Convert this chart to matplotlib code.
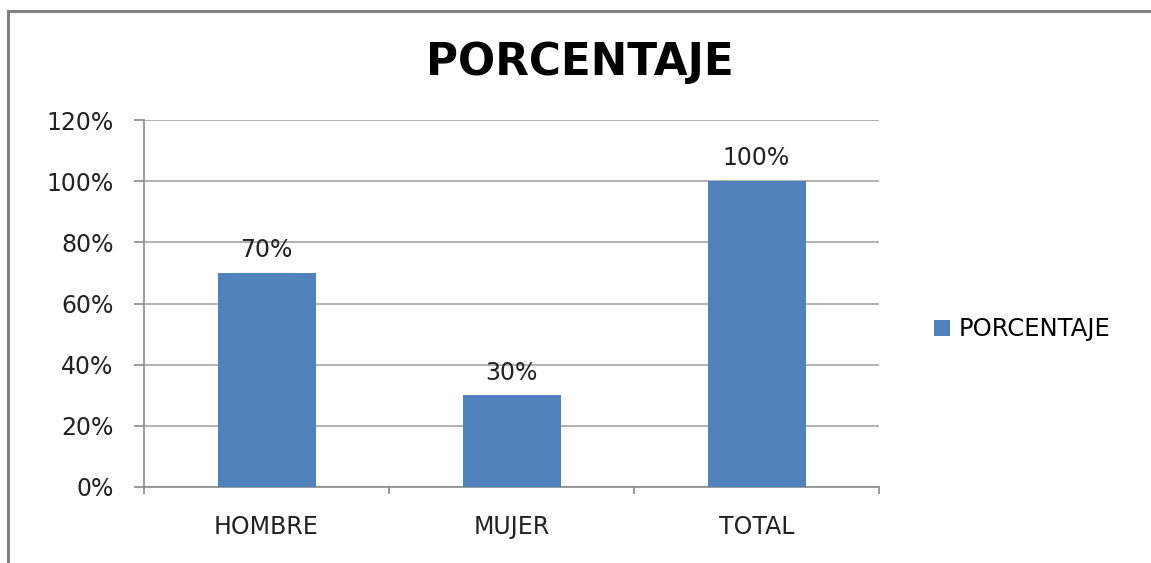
import numpy as np
import matplotlib.pyplot as plt
from matplotlib.patches import Rectangle
from matplotlib.ticker import PercentFormatter

# data
categorias = ["HOMBRE", "MUJER", "TOTAL"]
porcentajes = [70, 30, 100]
serie = "PORCENTAJE"

plt.rcParams['font.family'] = ['DejaVu Sans']

fig = plt.figure(figsize=(11.51, 5.63), dpi=100)
ax = fig.add_axes([144/1151, 76/563, 735/1151, 367/563])

# marco del grafico
fig.patches.append(Rectangle((8/1151, -0.05), 1.2, 552/563 + 0.05,
                             transform=fig.transFigure, fill=False,
                             edgecolor='#808080', linewidth=2.2))

x = np.arange(len(categorias))
barras = ax.bar(x, porcentajes, width=0.4, color='#4F81BD', label=serie, zorder=3)

for xi, v in zip(x, porcentajes):
    ax.text(xi, v + 3.5, f"{v}%", ha='center', va='bottom', fontsize=17, color='#222222')

ax.set_xlim(-0.5, 2.5)
ax.set_ylim(0, 120)
ax.set_yticks(np.arange(0, 121, 20))
ax.yaxis.set_major_formatter(PercentFormatter(decimals=0))
ax.grid(axis='y', color='#a6a6a6', linewidth=1.2, zorder=0)

ax.set_xticks(x)
ax.set_xticklabels(categorias)
ax.tick_params(axis='x', length=0, pad=20, labelsize=17, labelcolor='#222222')
ax.set_xticks([-0.5, 0.5, 1.5, 2.5], minor=True)
ax.tick_params(axis='x', which='minor', length=5, color='#8a8a8a', width=1.2)
ax.tick_params(axis='y', length=7, pad=15, labelsize=17, labelcolor='#222222',
               color='#8a8a8a', width=1.2)

for s in ['top', 'right']:
    ax.spines[s].set_visible(False)
ax.spines['left'].set_color('#8a8a8a')
ax.spines['bottom'].set_color('#8a8a8a')
ax.spines['left'].set_linewidth(1.2)
ax.spines['bottom'].set_linewidth(1.2)

fig.text(580/1151, 1 - 62/563, "PORCENTAJE", ha='center', va='center',
         fontsize=31.5, fontweight='bold', color='black')

ax.legend(loc='center left', bbox_to_anchor=(1.045, 0.43), frameon=False,
          fontsize=17.5, handlelength=0.65, handleheight=0.65, handletextpad=0.35)

fig.savefig("out.png", dpi=100)
